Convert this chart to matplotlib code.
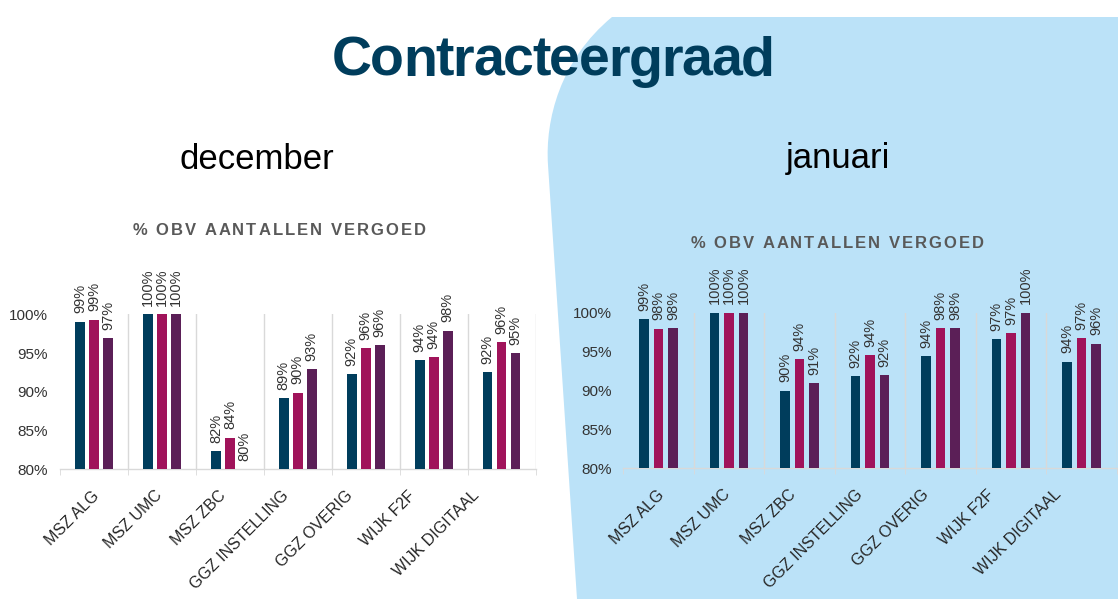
import matplotlib
matplotlib.use("Agg")
import matplotlib.pyplot as plt
import matplotlib.patches as mpatches
from matplotlib.path import Path
from matplotlib.transforms import ScaledTranslation
from matplotlib import font_manager
from matplotlib.ft2font import FT2Font

W, H = 1118, 599

categories = ["MSZ ALG", "MSZ UMC", "MSZ ZBC", "GGZ INSTELLING",
              "GGZ OVERIG", "WIJK F2F", "WIJK DIGITAAL"]

# three series per month (navy, magenta, purple)
dec_s1 = [99.05, 100, 82.3, 89.2, 92.3, 94.1, 92.5]
dec_s2 = [99.3, 100, 84.1, 89.9, 95.6, 94.5, 96.4]
dec_s3 = [96.9, 100, 80.0, 92.9, 96.0, 97.9, 95.0]

jan_s1 = [99.2, 100, 90.0, 91.8, 94.4, 96.6, 93.7]
jan_s2 = [97.95, 100, 94.0, 94.5, 98.0, 97.4, 96.7]
jan_s3 = [98.0, 100, 90.9, 92.0, 98.0, 100, 96.0]

yticks = [80, 85, 90, 95, 100]

colors = ["#003D5C", "#A0135A", "#5B1F57"]
blue_bg = "#BBE2F8"
title_col = "#003D5C"
txt_col = "#333333"
grid_col = "#D9D9D9"

fig = plt.figure(figsize=(W / 100, H / 100), dpi=100)
fig.patch.set_facecolor("white")


def px(x, y):
    return x / W, 1 - y / H


# light blue background shape on the right
verts = [px(1118, 17), px(612, 17), px(560, 60), px(545, 120), px(548, 165),
         px(577, 599), px(1118, 599), px(1118, 17)]
codes = [Path.MOVETO, Path.LINETO, Path.CURVE4, Path.CURVE4, Path.CURVE4,
         Path.LINETO, Path.LINETO, Path.CLOSEPOLY]
fig.patches.append(mpatches.PathPatch(Path(verts, codes), facecolor=blue_bg,
                                      edgecolor="none", transform=fig.transFigure,
                                      zorder=-5))


def spaced_text(cx, baseline, s, size, spacing, **kw):
    # draw text char by char so letter spacing can be set (pixels)
    prop = font_manager.FontProperties(family="Liberation Sans",
                                       weight=kw.get("weight", "normal"))
    font = FT2Font(font_manager.findfont(prop))
    font.set_size(size, 100)
    adv = [font.load_char(ord(c)).linearHoriAdvance / 65536 for c in s]
    total = sum(adv) + spacing * (len(s) - 1)
    x = cx - total / 2
    for c, a in zip(s, adv):
        if c != " ":
            fig.text(*px(x, baseline), c, fontsize=size, family="Liberation Sans",
                     ha="left", va="baseline", **kw)
        x += a + spacing


spaced_text(553, 76, "Contracteergraad", 40, -1.3, weight="bold", color=title_col)


def draw_month(rect, name, name_xy, sub_xy, s1, s2, s3, ypad, lab_dx, lab_step):
    ax = fig.add_axes(rect)
    ax.set_facecolor("none")
    x = list(range(len(categories)))
    off = 0.206
    for k, (vals, c) in enumerate(zip([s1, s2, s3], colors)):
        xs = [i + (k - 1) * off for i in x]
        hs = [v - 80 for v in vals]
        ax.bar(xs, hs, bottom=80, width=0.14, color=c, zorder=3)
        for xi, v in zip(xs, vals):
            ax.annotate(f"{round(v):.0f}%", (xi, v), xytext=(0, 6),
                        textcoords="offset points", rotation=90, ha="center",
                        va="bottom", fontsize=10.5, color=txt_col,
                        family="Liberation Sans", annotation_clip=False)
    ax.set_xlim(-0.5, len(categories) - 0.5)
    ax.set_ylim(80, 100)
    for b in range(1, len(categories) + 1):
        ax.axvline(b - 0.5, color=grid_col, lw=1, zorder=1)
    for sp in ["top", "right", "left"]:
        ax.spines[sp].set_visible(False)
    ax.spines["bottom"].set_color(grid_col)
    ax.spines["bottom"].set_linewidth(1)
    ax.set_yticks(yticks)
    ax.set_yticklabels([f"{t}%" for t in yticks], fontsize=11,
                       color=txt_col, family="Liberation Sans")
    ax.tick_params(axis="y", length=0, pad=ypad)
    ax.set_xticks([i - 0.5 for i in range(len(categories) + 1)], minor=True)
    ax.tick_params(axis="x", which="minor", length=4, color=grid_col,
                   direction="out")
    ax.set_xticks(x)
    ax.set_xticklabels(categories, fontsize=11.5, color="#262626",
                       family="Liberation Sans", rotation=45, ha="right",
                       va="center", rotation_mode="anchor")
    ax.tick_params(axis="x", which="major", length=0, pad=0)
    for i, lab in enumerate(ax.get_xticklabels()):
        dx = lab_dx + lab_step * i
        lab.set_transform(lab.get_transform() +
                          ScaledTranslation(dx / 100, -24 / 100,
                                            fig.dpi_scale_trans))
    fig.text(*px(*name_xy), name, fontsize=25, family="Liberation Sans",
             ha="center", va="baseline", color="black")
    spaced_text(sub_xy[0], sub_xy[1], "% OBV AANTALLEN VERGOED", 12, 2.0,
                weight="bold", color="#595959")
    return ax


draw_month([60 / W, 1 - 469.3 / H, (535.7 - 60) / W, 155 / H], "december",
           (256.5, 169), (279, 235), dec_s1, dec_s2, dec_s3, 9, 3, -4.7)
draw_month([623.3 / W, 1 - 468.3 / H, (1116.7 - 623.3) / W, 155.6 / H], "januari",
           (838, 168), (837, 247.5), jan_s1, jan_s2, jan_s3, 8, 3, -4.3)

fig.savefig("out.png", dpi=100)
